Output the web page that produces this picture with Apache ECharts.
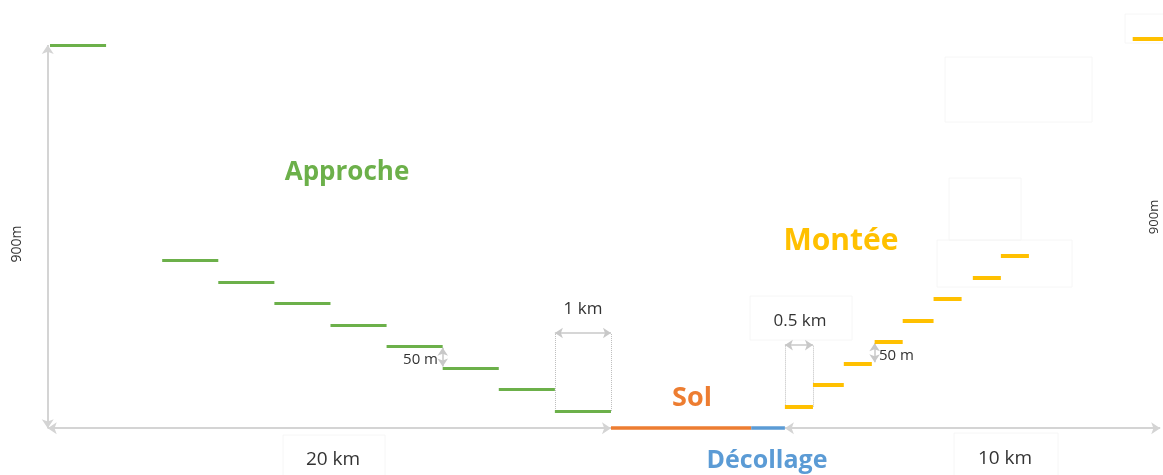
<!DOCTYPE html>
<html>
<head>
<meta charset="utf-8">
<script src="https://cdn.jsdelivr.net/npm/echarts@6/dist/echarts.min.js"></script>
<style>
html,body{margin:0;padding:0;background:#fff;}
#chart{width:1163px;height:475px;}
</style>
</head>
<body>
<div id="chart"></div>
<script>
// ---- data (distance units of the diagram, altitude in metres) ----
const approachStart = [0, 2, 3, 4, 5, 6, 7, 8, 9];
const approachEnd   = [1, 3, 4, 5, 6, 7, 8, 9, 10];
const approachAlt   = [900, 400, 350, 300, 250, 200, 150, 100, 50];

const climbStart = [13.1, 13.6, 14.15, 14.7, 15.2, 15.75, 16.45, 16.95, 19.3];
const climbEnd   = [13.6, 14.15, 14.65, 15.2, 15.75, 16.25, 16.95, 17.45, 19.95];
const climbAlt   = [60, 110, 160, 210, 260, 310, 360, 410, 915];

const groundLevel = 10;
const solRange = [10, 12.5];
const decollageRange = [12.5, 13.1];
const approachRange = [0, 10];
const climbRange = [13.1, 19.84];
const topAlt = 900;

const labels = {
  approche: 'Approche', montee: 'Montée', sol: 'Sol', decollage: 'Décollage',
  dist1: '20 km', dist2: '10 km', alt: '900m', step1: '1 km', step2: '0.5 km', rise: '50 m'
};

// ---- build segments ----
function segs(s, e, a) { return s.map((v, i) => ({ coords: [[v, a[i]], [e[i], a[i]]] })); }

const GRAY = '#d4d4d4';
const FONT = '"Open Sans", Lato, sans-serif';

function txt(x, y, text, color, font, align, extra) {
  return Object.assign({ type: 'text', x: x, y: y, style: { text: text, fill: color, font: font, textAlign: align || 'center', textVerticalAlign: 'middle' } }, extra || {});
}
function frame(x, y, w, h) {
  return { type: 'rect', shape: { x: x, y: y, width: w, height: h }, style: { fill: 'none', stroke: '#f6f6f6', lineWidth: 1 } };
}

const chart = echarts.init(document.getElementById('chart'));
const option = {
  animation: false,
  grid: { left: 0, right: 0, top: 0, bottom: 0 },
  xAxis: { type: 'value', min: -0.891, max: 19.84, show: false },
  yAxis: { type: 'value', min: -98.7, max: 1004.4, show: false },
  series: [
    { // axes / dimension lines
      type: 'lines', coordinateSystem: 'cartesian2d', clip: false, silent: true,
      symbol: ['arrow', 'arrow'], symbolSize: 9,
      lineStyle: { color: GRAY, width: 2, opacity: 1 },
      data: [
        { coords: [[approachRange[0] - 0.04, groundLevel], [approachRange[1], groundLevel]] },
        { coords: [[climbRange[0], groundLevel], [climbRange[1] - 0.05, groundLevel]] },
        { coords: [[approachRange[0] - 0.04, groundLevel], [approachRange[0] - 0.04, topAlt]] }
      ]
    },
    { // step dimension arrows
      type: 'lines', coordinateSystem: 'cartesian2d', clip: false, silent: true,
      symbol: ['arrow', 'arrow'], symbolSize: 8,
      lineStyle: { color: '#c8c8c8', width: 1.5, opacity: 1 },
      data: [
        { coords: [[approachStart[8], 231], [approachEnd[8], 231]] },
        { coords: [[climbStart[0], 203], [climbEnd[0], 203]] },
        { coords: [[approachStart[6], approachAlt[6] + 3], [approachStart[6], approachAlt[5] - 3]] },
        { coords: [[climbStart[3], climbAlt[2] + 3], [climbStart[3], climbAlt[3] - 3]] }
      ]
    },
    { // dotted extension lines
      type: 'lines', coordinateSystem: 'cartesian2d', clip: false, silent: true,
      lineStyle: { color: '#bdbdbd', width: 1, type: 'dotted', opacity: 1 },
      data: [
        { coords: [[approachStart[8], approachAlt[8]], [approachStart[8], 231]] },
        { coords: [[approachEnd[8], approachAlt[8]], [approachEnd[8], 231]] },
        { coords: [[climbStart[0], climbAlt[0]], [climbStart[0], 203]] },
        { coords: [[climbEnd[0], climbAlt[0]], [climbEnd[0], 203]] }
      ]
    },
    {
      type: 'lines', coordinateSystem: 'cartesian2d', clip: false, silent: true,
      lineStyle: { color: '#6cb04a', width: 3, opacity: 1 },
      data: segs(approachStart, approachEnd, approachAlt)
    },
    {
      type: 'lines', coordinateSystem: 'cartesian2d', clip: false, silent: true,
      lineStyle: { color: '#ffc000', width: 4, opacity: 1 },
      data: segs(climbStart, climbEnd, climbAlt)
    },
    {
      type: 'lines', coordinateSystem: 'cartesian2d', clip: false, silent: true,
      lineStyle: { color: '#ed7d31', width: 3.5, opacity: 1 },
      data: [{ coords: [[solRange[0], groundLevel], [solRange[1], groundLevel]] }]
    },
    {
      type: 'lines', coordinateSystem: 'cartesian2d', clip: false, silent: true,
      lineStyle: { color: '#5b9bd5', width: 3.5, opacity: 1 },
      data: [{ coords: [[decollageRange[0], groundLevel], [decollageRange[1], groundLevel]] }]
    }
  ],
  graphic: [
    txt(347, 173, labels.approche, '#6cb04a', 'bold 26px ' + FONT),
    txt(841, 241, labels.montee, '#ffc000', 'bold 30px ' + FONT),
    txt(692, 398, labels.sol, '#ed7d31', 'bold 27px ' + FONT),
    txt(767, 461, labels.decollage, '#5b9bd5', 'bold 25px ' + FONT),
    txt(333, 460, labels.dist1, '#333333', '19px ' + FONT),
    txt(1005, 459, labels.dist2, '#333333', '19px ' + FONT),
    txt(583, 309, labels.step1, '#333333', '17px ' + FONT),
    txt(800, 321, labels.step2, '#333333', '17px ' + FONT),
    txt(438, 360, labels.rise, '#333333', '15px ' + FONT, 'right'),
    txt(879, 356, labels.rise, '#333333', '15px ' + FONT, 'left'),
    txt(17, 244, labels.alt, '#333333', '14px ' + FONT, 'center', { rotation: Math.PI / 2 }),
    txt(1154, 217, labels.alt, '#333333', '13px ' + FONT, 'center', { rotation: Math.PI / 2 }),
    // faint text-box frames
    frame(283, 435, 102, 45),
    frame(954, 433, 104, 45),
    frame(750, 296, 102, 44),
    frame(945, 57, 147, 65),
    frame(949, 178, 72, 62),
    frame(937, 240, 135, 47),
    frame(1125, 14, 40, 29)
  ]
};
chart.setOption(option);
</script>
</body>
</html>
